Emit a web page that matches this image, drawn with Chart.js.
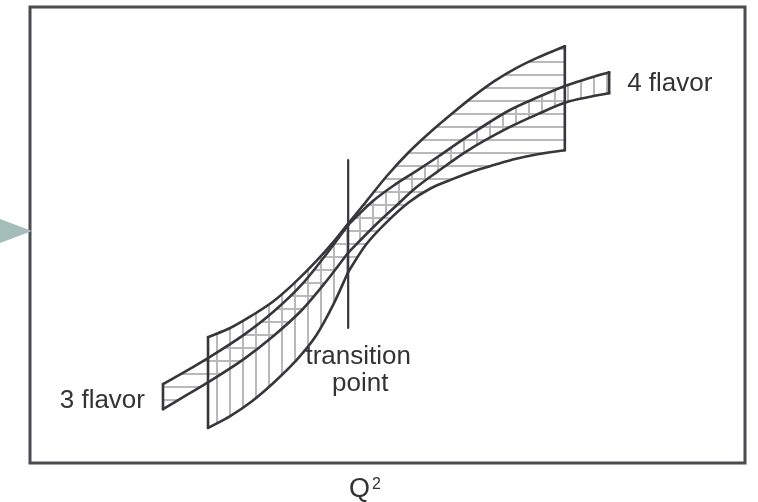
<!DOCTYPE html>
<html>
<head>
<meta charset="utf-8">
<script src="https://cdn.jsdelivr.net/npm/chart.js@4.4.0/dist/chart.umd.min.js"></script>
<style>
  html, body { margin: 0; padding: 0; background: #fff; }
  #wrap { width: 758px; height: 502px; }
</style>
</head>
<body>
<div id="wrap"><canvas id="myChart" width="758" height="502"></canvas></div>
<script>
// both axes in arbitrary units (0-100 across the frame)
var transitionQ2 = 44.5;
var transitionSpan = [29.6, 66.4];

// narrow band: 3 flavor below the transition, 4 flavor above it
var narrowQ2 = [18.6, 22, 25, 30, 34, 38, 41, 44.5, 48, 51, 54, 57, 61, 67, 71, 75, 78, 81];
var narrowTop = [17.3, 20.3, 23.1, 28.2, 33.1, 39.1, 44.9, 52.2, 57.5, 61.0, 64.0, 67.1, 71.4, 77.3, 80.2, 82.8, 84.3, 85.7];
var narrowBottom = [11.8, 15.0, 17.8, 22.9, 27.8, 33.5, 39.0, 46.1, 51.7, 56.1, 60.4, 63.9, 68.3, 73.6, 76.5, 79.1, 80.2, 81.1];

// wide band: 4 flavor run down below the transition, 3 flavor run up above it
var wideQ2 = [24.9, 28, 31, 34, 37, 40, 42.5, 44.5, 47, 50, 53, 56, 59, 62, 65, 68, 71, 74.8];
var wideTop = [27.6, 29.6, 32.3, 35.4, 39.5, 44.2, 48.6, 52.5, 57.3, 63.1, 68.2, 72.6, 76.6, 80.4, 83.8, 86.6, 88.9, 91.4];
var wideBottom = [7.7, 10.3, 13.5, 17.5, 22.1, 27.9, 35.0, 41.9, 47.9, 53.0, 57.2, 60.2, 62.2, 64.0, 65.4, 66.7, 67.7, 68.6];

var edge = '#36363b';

function pts(xs, ys, from, to) {
  var out = [];
  for (var i = from; i <= to; i++) out.push({x: xs[i], y: ys[i]});
  return out;
}

function cap(xs, top, bottom, i) {
  return {data: [{x: xs[i], y: bottom[i]}, {x: xs[i], y: top[i]}], borderColor: edge, borderWidth: 2.6, fill: false, tension: 0};
}

function hatch(horizontal) {
  var c = document.createElement('canvas');
  c.width = 13; c.height = 13;
  var g = c.getContext('2d');
  g.strokeStyle = '#b9b9b9';
  g.lineWidth = 2;
  g.beginPath();
  if (horizontal) { g.moveTo(0, 10); g.lineTo(13, 10); }
  else { g.moveTo(9, 0); g.lineTo(9, 13); }
  g.stroke();
  return g.createPattern(c, 'repeat');
}

function band(top, bottom, pattern) {
  return [
    {data: top, fill: '+1', backgroundColor: pattern, borderColor: edge, borderWidth: 2.6},
    {data: bottom, fill: false, borderColor: edge, borderWidth: 2.6}
  ];
}

var horiz = hatch(true);
var vert = hatch(false);
var nCut = narrowQ2.indexOf(transitionQ2);
var wCut = wideQ2.indexOf(transitionQ2);
var nLast = narrowQ2.length - 1;
var wLast = wideQ2.length - 1;

var datasets = [
  {data: [{x: transitionQ2, y: transitionSpan[0]}, {x: transitionQ2, y: transitionSpan[1]}], borderColor: edge, borderWidth: 2.2, fill: false, tension: 0},
  cap(narrowQ2, narrowTop, narrowBottom, 0),
  cap(narrowQ2, narrowTop, narrowBottom, nLast),
  cap(wideQ2, wideTop, wideBottom, 0),
  cap(wideQ2, wideTop, wideBottom, wLast)
]
  .concat(band(pts(narrowQ2, narrowTop, 0, nCut), pts(narrowQ2, narrowBottom, 0, nCut), horiz))
  .concat(band(pts(narrowQ2, narrowTop, nCut, nLast), pts(narrowQ2, narrowBottom, nCut, nLast), vert))
  .concat(band(pts(wideQ2, wideTop, 0, wCut), pts(wideQ2, wideBottom, 0, wCut), vert))
  .concat(band(pts(wideQ2, wideTop, wCut, wLast), pts(wideQ2, wideBottom, wCut, wLast), horiz));

var decor = {
  id: 'decor',
  afterDraw: function(chart) {
    var ctx = chart.ctx, a = chart.chartArea, x = chart.scales.x, y = chart.scales.y;
    ctx.save();
    ctx.strokeStyle = '#4b4b50';
    ctx.lineWidth = 3;
    ctx.strokeRect(a.left, a.top, a.right - a.left, a.bottom - a.top);

    // pointer on the left edge
    var tipY = a.top + 224;
    ctx.fillStyle = '#a4bdb9';
    ctx.beginPath();
    ctx.moveTo(0, tipY - 12);
    ctx.lineTo(a.left + 2, tipY);
    ctx.lineTo(0, tipY + 12);
    ctx.closePath();
    ctx.fill();

    ctx.fillStyle = '#333';
    ctx.font = '26px "Liberation Sans", Arial, sans-serif';
    ctx.textBaseline = 'middle';
    ctx.textAlign = 'left';
    ctx.fillText('4 flavor', x.getPixelForValue(narrowQ2[nLast]) + 18, y.getPixelForValue((narrowTop[nLast] + narrowBottom[nLast]) / 2) + 1);
    ctx.textAlign = 'right';
    ctx.fillText('3 flavor', x.getPixelForValue(narrowQ2[0]) - 18, y.getPixelForValue((narrowTop[0] + narrowBottom[0]) / 2) + 4);

    ctx.textAlign = 'center';
    ctx.textBaseline = 'alphabetic';
    var tx = x.getPixelForValue(transitionQ2), ty = y.getPixelForValue(transitionSpan[0]);
    ctx.fillText('transition', tx + 10, ty + 36);
    ctx.fillText('point', tx + 12, ty + 63);

    ctx.textAlign = 'left';
    ctx.font = '27px "Liberation Sans", Arial, sans-serif';
    ctx.fillText('Q', 349, a.bottom + 34);
    ctx.font = '16px "Liberation Sans", Arial, sans-serif';
    ctx.fillText('2', 372, a.bottom + 26);
    ctx.restore();
  }
};

var ctx = document.getElementById('myChart').getContext('2d');
var myChart = new Chart(ctx, {
  type: 'line',
  data: { datasets: datasets },
  options: {
    responsive: false,
    animation: false,
    devicePixelRatio: 1,
    events: [],
    layout: { padding: { left: 30, right: 13, top: 7, bottom: 39 } },
    elements: {
      point: { radius: 0 },
      line: { cubicInterpolationMode: 'monotone', borderCapStyle: 'round', borderJoinStyle: 'round' }
    },
    scales: {
      x: { type: 'linear', min: 0, max: 100, display: false },
      y: { type: 'linear', min: 0, max: 100, display: false }
    },
    plugins: {
      legend: { display: false },
      tooltip: { enabled: false },
      filler: { drawTime: 'beforeDatasetsDraw' }
    }
  },
  plugins: [decor]
});
</script>
</body>
</html>
